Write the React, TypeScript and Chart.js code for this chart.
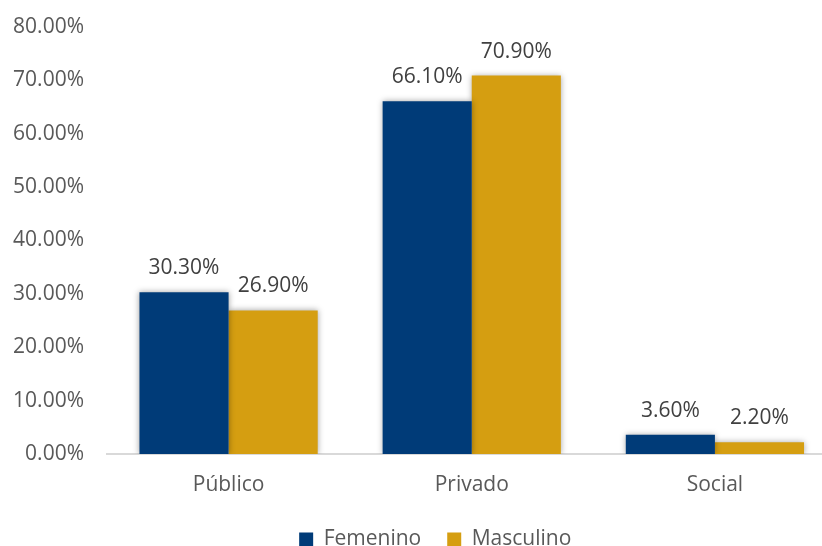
import React, { useEffect, useRef } from "react";
import { Chart, registerables } from "chart.js";

Chart.register(...registerables);

const categories = ["Público", "Privado", "Social"];
const femenino = [30.3, 66.1, 3.6];
const masculino = [26.9, 70.9, 2.2];
const seriesNames = ["Femenino", "Masculino"];
const yTicks = [0, 10, 20, 30, 40, 50, 60, 70, 80];

const FONT = "'Open Sans', 'Liberation Sans', sans-serif";

const shadowPlugin = {
  id: "barShadow",
  beforeDatasetDraw(chart: any) {
    const ctx = chart.ctx;
    ctx.save();
    ctx.shadowColor = "rgba(0,0,0,0.35)";
    ctx.shadowBlur = 6;
    ctx.shadowOffsetX = 0;
    ctx.shadowOffsetY = 0;
  },
  afterDatasetDraw(chart: any) {
    chart.ctx.restore();
  },
};

const legendShiftPlugin = {
  id: "legendShift",
  afterLayout(chart: any) {
    if (chart.legend) {
      chart.legend.left += 34;
    }
  },
};

const labelPlugin = {
  id: "valueLabels",
  afterDatasetsDraw(chart: any) {
    const ctx = chart.ctx;
    ctx.save();
    ctx.font = `21px ${FONT}`;
    ctx.fillStyle = "#404040";
    ctx.textAlign = "center";
    ctx.textBaseline = "alphabetic";
    chart.data.datasets.forEach((ds: any, i: number) => {
      const meta = chart.getDatasetMeta(i);
      meta.data.forEach((bar: any, j: number) => {
        const v = ds.data[j] as number;
        ctx.fillText(v.toFixed(2) + "%", bar.x, bar.y - 18);
      });
    });
    ctx.restore();
  },
};

export default function App() {
  const ref = useRef<HTMLCanvasElement | null>(null);
  useEffect(() => {
    if (!ref.current) return;
    const chart = new Chart(ref.current, {
      type: "bar",
      data: {
        labels: categories,
        datasets: [
          { label: seriesNames[0], data: femenino, backgroundColor: "#003B78" },
          { label: seriesNames[1], data: masculino, backgroundColor: "#D59E11" },
        ],
      },
      options: {
        responsive: false,
        animation: false,
        layout: { padding: { top: 27, right: 58.5, left: 0, bottom: 0 } },
        datasets: {
          bar: { categoryPercentage: 0.733, barPercentage: 1.0 },
        } as any,
        scales: {
          x: {
            grid: { display: false, drawTicks: false },
            border: { display: true, color: "#D9D9D9", width: 2 },
            ticks: { color: "#595959", font: { family: FONT, size: 21 }, padding: 18 },
            afterFit: (s: any) => {
              s.height = 49;
            },
          },
          y: {
            min: 0,
            max: 80,
            afterBuildTicks: (s: any) => {
              s.ticks = yTicks.map((v) => ({ value: v }));
            },
            grid: { display: false, drawTicks: false },
            border: { display: false },
            ticks: {
              color: "#595959",
              font: { family: FONT, size: 21 },
              padding: 23,
              callback: (v: any) => Number(v).toFixed(2) + "%",
            },
            afterFit: (s: any) => {
              s.width = 107;
              s.paddingTop = 0;
              s.paddingBottom = 0;
            },
          },
        },
        plugins: {
          legend: {
            position: "bottom",
            labels: {
              color: "#595959",
              font: { family: FONT, size: 21 },
              boxWidth: 14,
              boxHeight: 14,
              padding: 26,
            },
          },
          tooltip: { enabled: false },
        },
      },
      plugins: [shadowPlugin, labelPlugin, legendShiftPlugin],
    });
    return () => chart.destroy();
  }, []);
  return (
    <div
      style={{
        position: "fixed",
        left: 0,
        top: 0,
        width: 822,
        height: 546,
        overflow: "hidden",
        background: "#fff",
      }}
    >
      <canvas ref={ref} width={895} height={560} style={{ display: "block" }} />
    </div>
  );
}
